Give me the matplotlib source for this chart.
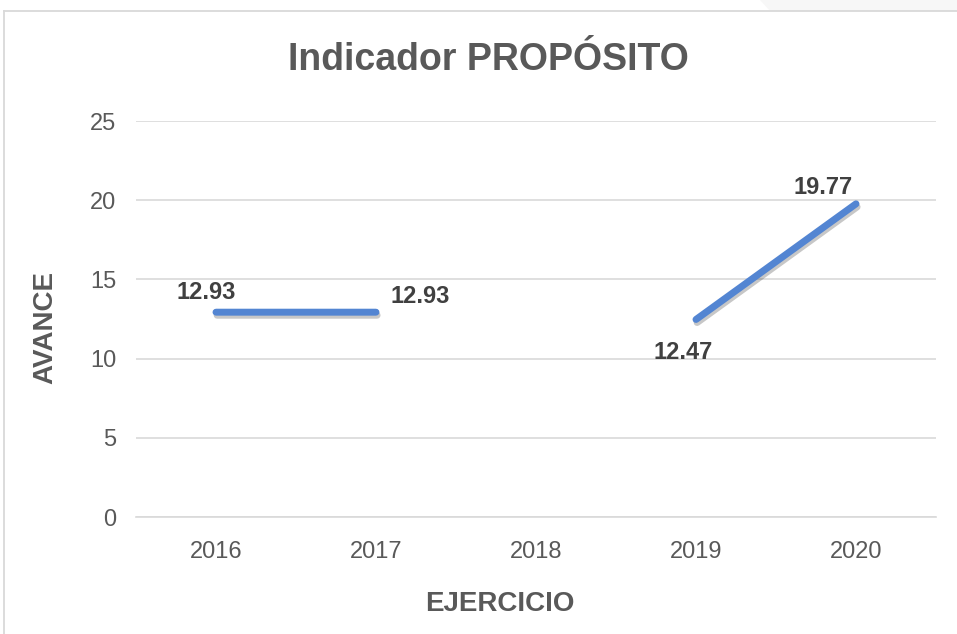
import matplotlib
matplotlib.use("Agg")
import matplotlib.pyplot as plt
import matplotlib.patheffects as pe
import numpy as np
from matplotlib.patches import Polygon
from matplotlib.lines import Line2D

years = ["2016", "2017", "2018", "2019", "2020"]
avance = [12.93, 12.93, np.nan, 12.47, 19.77]
label_offsets = [(-7, 14), (32, 11), None, (-9, -24), (-24, 12)]

plt.rcParams['font.family'] = ['Liberation Sans', 'DejaVu Sans']

W, H = 957, 634
fig = plt.figure(figsize=(W/100, H/100), dpi=100)
ax = fig.add_axes([136/W, 1-517/H, 800/W, (517-121)/H])

# faint background corner at top right
fig.patches.append(Polygon([(760/W, 1), (1, 1), (1, 1-11/H), (770/W, 1-11/H)],
                           closed=True, transform=fig.transFigure,
                           facecolor='#F7F7F7', edgecolor='none'))
# chart border (top and left only visible)
fig.add_artist(Line2D([4/W, 1], [1-11/H, 1-11/H], transform=fig.transFigure,
                      color='#D9D9D9', linewidth=1.3))
fig.add_artist(Line2D([4/W, 4/W], [0, 1-11/H], transform=fig.transFigure,
                      color='#D9D9D9', linewidth=1.3))

x = np.arange(len(years))
ax.plot(x, avance, color='#5385D2', linewidth=5.0, solid_capstyle='round',
        path_effects=[pe.SimpleLineShadow(offset=(0.8, -2.2), shadow_color='black', alpha=0.22),
                      pe.Normal()], zorder=3)

for xi, v, off in zip(x, avance, label_offsets):
    if off is None or np.isnan(v):
        continue
    ax.annotate(f"{v:.2f}", (xi, v), xytext=off, textcoords='offset points',
                ha='center', va='center', fontsize=17, fontweight='bold', color='#404040')

ax.set_xlim(-0.5, 4.5)
ax.set_ylim(0, 25)
ax.set_yticks([0, 5, 10, 15, 20, 25])
ax.set_xticks(x)
ax.set_xticklabels(years)
ax.yaxis.grid(True, color='#D9D9D9', linewidth=1.2)
ax.set_axisbelow(True)
for s in ['top', 'right', 'left']:
    ax.spines[s].set_visible(False)
ax.spines['bottom'].set_color('#D9D9D9')
ax.spines['bottom'].set_linewidth(1.2)
ax.tick_params(axis='both', length=0, labelsize=17, labelcolor='#595959')
ax.tick_params(axis='y', pad=14)
ax.tick_params(axis='x', pad=17)

fig.text(488/W, 1-60/H, "Indicador PROPÓSITO", ha='center', va='center',
         fontsize=27, fontweight='bold', color='#595959')
fig.text(500/W, 1-604/H, "EJERCICIO", ha='center', va='center',
         fontsize=20, fontweight='bold', color='#595959')
fig.text(45/W, 1-328/H, "AVANCE", ha='center', va='center', rotation=90,
         fontsize=20, fontweight='bold', color='#595959')

fig.savefig("out.png", dpi=100, facecolor='white')
